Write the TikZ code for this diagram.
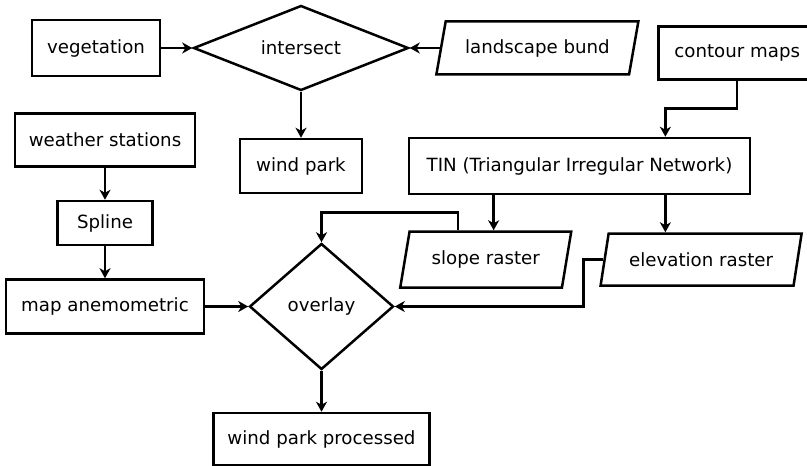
\documentclass[tikz,border=0pt]{standalone}
\usepackage{fontspec}
\setmainfont{DejaVu Sans}
\usetikzlibrary{arrows.meta, positioning, shapes.geometric, calc}

\begin{document}
\begin{tikzpicture}[
    font=\fontsize{9.1}{11}\selectfont,
    box/.style={draw, line width=1.25pt, inner sep=2pt},
    dat/.style={draw, line width=1.25pt, trapezium, trapezium left angle=70,
                trapezium right angle=110, trapezium stretches body, inner sep=2pt},
    dec/.style={draw, line width=1.25pt, diamond, aspect=2, inner sep=0pt},
    arr/.style={-{Stealth[length=5pt, width=5.5pt, inset=1.5pt]}, line width=1.25pt}
  ]
    \useasboundingbox (-48pt,24pt) rectangle (355.5pt,-208.5pt);
    \node[box, minimum width=64pt, minimum height=28pt] (veg) {vegetation};
    \node[dec, minimum width=107.5pt, minimum height=42.5pt, right=15.5pt of veg] (intersect) {intersect};
    \node[dat, minimum width=101pt, minimum height=26.5pt, right=15pt of intersect, anchor=left side] (bund) {landscape bund};
    \node[box, minimum width=78.5pt, minimum height=26.5pt, right=11.25pt of bund.right side, yshift=-2.5pt] (contour) {contour maps};
    \node[box, minimum width=90pt, minimum height=26.5pt, below=17.5pt of veg, xshift=4.5pt] (weather) {weather stations};
    \node[box, minimum width=61pt, minimum height=27pt, below=23pt of intersect] (windpark) {wind park};
    \node[box, minimum width=170.5pt, minimum height=28pt, right=22.25pt of windpark] (tin) {TIN (Triangular Irregular Network)};
    \node[box, minimum width=47.5pt, minimum height=22pt, below=16pt of weather] (spline) {Spline};
    \node[box, minimum width=99pt, minimum height=27pt, below=16pt of spline] (anem) {map anemometric};
    \node[dec, aspect=1.1, minimum width=72pt, minimum height=63pt, right=21.5pt of anem] (overlay) {overlay};
    \node[box, minimum width=108pt, minimum height=26pt, below=20.5pt of overlay] (processed) {wind park processed};
    % points on the TIN box
    \coordinate (ts1) at ($(tin.south west)!.25!(tin.south east)$);
    \coordinate (ts2) at ($(tin.south west)!.75!(tin.south east)$);
    \coordinate (tn2) at ($(tin.north west)!.75!(tin.north east)$);
    \node[dat, minimum width=85.5pt, minimum height=28pt, below=17.5pt of ts1, anchor=top side, xshift=-1.5pt] (slope) {slope raster};
    \node[dat, minimum width=100.5pt, minimum height=26pt, right=17.75pt of slope.right side, anchor=left side] (elev) {elevation raster};

    \draw[arr] (veg) -- (intersect);
    \draw[arr] (bund.left side) -- (intersect.east);
    \draw[arr] (intersect) -- (windpark);
    \draw[arr] (contour.south) -- ++(0,-14pt) -| (tn2);
    \draw[arr] (weather) -- (spline);
    \draw[arr] (spline) -- (anem);
    \draw[arr] (anem) -- (overlay);
    \draw[arr] (overlay) -- (processed);
    \draw[arr] (ts1) -- (ts1 |- slope.top side);
    \draw[arr] (ts2) -- (ts2 |- elev.top side);
    \draw[arr] ($(slope.top left corner)!.6!(slope.top side)$) -- ++(0,9pt) -| (overlay.north);
    \draw[arr] (elev.left side) -- ++(-10pt,0) |- (overlay.east);
  \end{tikzpicture}
\end{document}
